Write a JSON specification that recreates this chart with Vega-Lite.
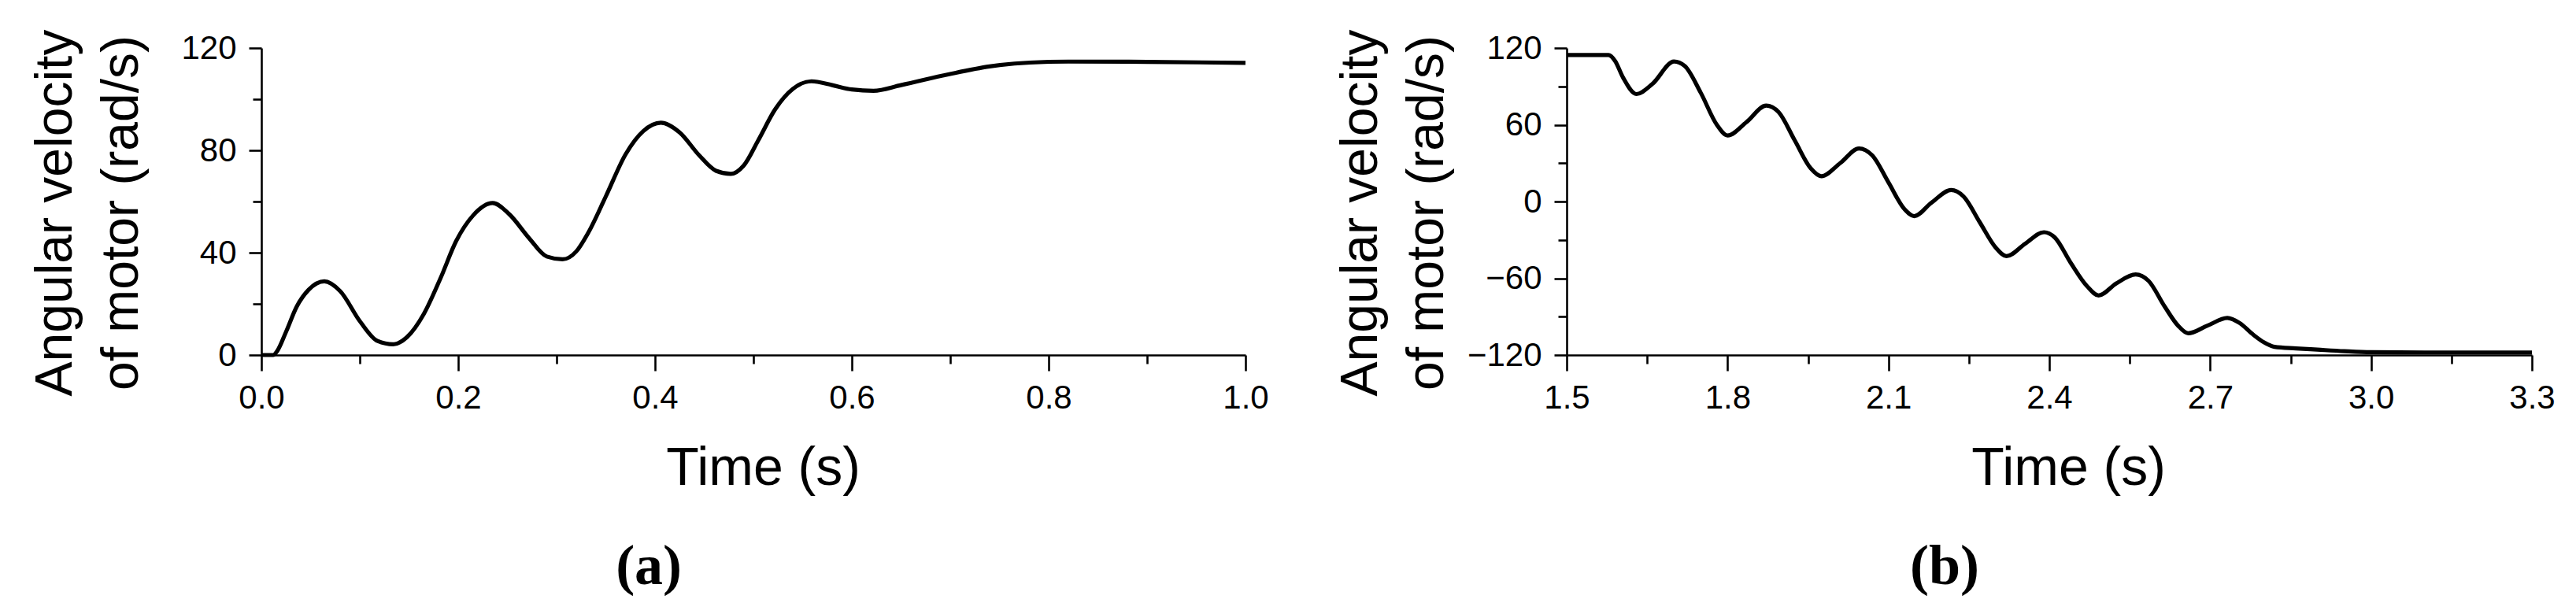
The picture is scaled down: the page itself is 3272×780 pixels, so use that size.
{
  "$schema": "https://vega.github.io/schema/vega-lite/v6.json",
  "background": "white",
  "padding": {"left": 37, "top": 37, "right": 0, "bottom": 20},
  "spacing": 83,
  "config": {
    "view": {"stroke": null},
    "font": "Liberation Sans",
    "axis": {
      "domainColor": "black", "domainWidth": 2.6,
      "tickColor": "black", "tickWidth": 2.6,
      "labelColor": "black", "labelFont": "Liberation Sans", "labelFontSize": 42,
      "titleColor": "black", "titleFont": "Liberation Sans", "titleFontWeight": "normal",
      "grid": false, "labelFlush": false, "labelOverlap": false
    }
  },
  "hconcat": [
    {
      "width": 1250, "height": 390,
      "title": {"text": "(a)", "orient": "bottom", "frame": "bounds", "anchor": "middle", "offset": 56, "font": "Liberation Serif", "fontSize": 72, "fontWeight": "bold", "color": "black"},
      "data": {"values": [
        {"t": 0, "v": 0}, {"t": 0.012, "v": 0}, {"t": 0.016, "v": 1.5}, {"t": 0.025, "v": 9},
        {"t": 0.036, "v": 19}, {"t": 0.048, "v": 25.5}, {"t": 0.064, "v": 28.8}, {"t": 0.08, "v": 25},
        {"t": 0.1005, "v": 13}, {"t": 0.118, "v": 5.5}, {"t": 0.134, "v": 4.2}, {"t": 0.148, "v": 7},
        {"t": 0.165, "v": 16}, {"t": 0.182, "v": 30}, {"t": 0.198, "v": 44.6}, {"t": 0.215, "v": 54.5},
        {"t": 0.235, "v": 59.4}, {"t": 0.252, "v": 55}, {"t": 0.272, "v": 45.7}, {"t": 0.29, "v": 38.5},
        {"t": 0.306, "v": 37.4}, {"t": 0.32, "v": 40.5}, {"t": 0.332, "v": 47.7}, {"t": 0.35, "v": 62},
        {"t": 0.37, "v": 78.4}, {"t": 0.388, "v": 87.5}, {"t": 0.406, "v": 90.8}, {"t": 0.425, "v": 87},
        {"t": 0.445, "v": 78}, {"t": 0.462, "v": 72}, {"t": 0.477, "v": 70.8}, {"t": 0.49, "v": 74},
        {"t": 0.505, "v": 84}, {"t": 0.522, "v": 96}, {"t": 0.54, "v": 104}, {"t": 0.559, "v": 107},
        {"t": 0.58, "v": 105.5}, {"t": 0.6, "v": 103.8}, {"t": 0.622, "v": 103.3}, {"t": 0.65, "v": 105.5},
        {"t": 0.698, "v": 109.7}, {"t": 0.74, "v": 112.8}, {"t": 0.781, "v": 114.3}, {"t": 0.82, "v": 114.7},
        {"t": 0.9, "v": 114.6}, {"t": 1.0, "v": 114.2}
      ]},
      "mark": {"type": "line", "color": "black", "strokeWidth": 5.2, "interpolate": "monotone", "clip": false},
      "encoding": {
        "x": {
          "field": "t", "type": "quantitative",
          "scale": {"domain": [0, 1], "nice": false, "zero": false},
          "axis": {
            "values": [0, 0.1, 0.2, 0.3, 0.4, 0.5, 0.6, 0.7, 0.8, 0.9, 1.0],
            "format": ".1f",
            "labelExpr": "round(datum.value*10)%2==1 ? '' : datum.label",
            "labelFontSize": 42,
            "tickSize": {"condition": {"test": "round(datum.value*10)%2==1", "value": 11}, "value": 20},
            "labelPadding": 14,
            "title": "Time (s)", "titleFontSize": 68, "titleX": 637, "titleY": 110
          }
        },
        "y": {
          "field": "v", "type": "quantitative",
          "scale": {"domain": [0, 120], "nice": false},
          "axis": {
            "values": [0, 20, 40, 60, 80, 100, 120],
            "labelExpr": "datum.value%40!=0 ? '' : datum.label",
            "labelFontSize": 42,
            "tickSize": {"condition": {"test": "datum.value%40!=0", "value": 11}, "value": 16},
            "labelPadding": 16,
            "title": ["Angular velocity", "of motor (rad/s)"],
            "titleFontSize": 66, "titleLineHeight": 84,
            "titleX": -228, "titleY": 209, "titleBaseline": "bottom", "titleAlign": "center"
          }
        }
      }
    },
    {
      "width": 1226, "height": 390,
      "title": {"text": "(b)", "orient": "bottom", "frame": "bounds", "anchor": "middle", "offset": 56, "font": "Liberation Serif", "fontSize": 72, "fontWeight": "bold", "color": "black"},
      "data": {"values": [
        {"t": 1.5, "v": 114.5}, {"t": 1.578, "v": 114.5}, {"t": 1.59, "v": 110}, {"t": 1.605, "v": 97},
        {"t": 1.63, "v": 84}, {"t": 1.66, "v": 92}, {"t": 1.7, "v": 109.4}, {"t": 1.72, "v": 106},
        {"t": 1.75, "v": 85}, {"t": 1.78, "v": 60}, {"t": 1.8, "v": 51.6}, {"t": 1.835, "v": 62},
        {"t": 1.872, "v": 75}, {"t": 1.895, "v": 70}, {"t": 1.925, "v": 48}, {"t": 1.955, "v": 26},
        {"t": 1.975, "v": 19.8}, {"t": 2.01, "v": 30}, {"t": 2.045, "v": 41.5}, {"t": 2.07, "v": 36},
        {"t": 2.1, "v": 15}, {"t": 2.13, "v": -6}, {"t": 2.148, "v": -11.4}, {"t": 2.18, "v": -1},
        {"t": 2.217, "v": 9}, {"t": 2.24, "v": 4}, {"t": 2.27, "v": -16}, {"t": 2.3, "v": -36},
        {"t": 2.32, "v": -42.7}, {"t": 2.355, "v": -33}, {"t": 2.39, "v": -24}, {"t": 2.41, "v": -28},
        {"t": 2.44, "v": -48}, {"t": 2.47, "v": -66}, {"t": 2.492, "v": -73.4}, {"t": 2.525, "v": -64},
        {"t": 2.561, "v": -57}, {"t": 2.585, "v": -62}, {"t": 2.615, "v": -82}, {"t": 2.64, "v": -97},
        {"t": 2.659, "v": -103}, {"t": 2.695, "v": -97}, {"t": 2.732, "v": -91}, {"t": 2.755, "v": -95},
        {"t": 2.78, "v": -104}, {"t": 2.8, "v": -110}, {"t": 2.82, "v": -113.6}, {"t": 2.86, "v": -114.8},
        {"t": 2.9, "v": -115.8}, {"t": 2.95, "v": -117}, {"t": 3.0, "v": -117.8}, {"t": 3.1, "v": -118},
        {"t": 3.3, "v": -118}
      ]},
      "mark": {"type": "line", "color": "black", "strokeWidth": 5.2, "interpolate": "monotone", "clip": false},
      "encoding": {
        "x": {
          "field": "t", "type": "quantitative",
          "scale": {"domain": [1.5, 3.3], "nice": false, "zero": false},
          "axis": {
            "values": [1.5, 1.65, 1.8, 1.95, 2.1, 2.25, 2.4, 2.55, 2.7, 2.85, 3.0, 3.15, 3.3],
            "format": ".1f",
            "labelExpr": "round((datum.value-1.5)/0.15)%2==1 ? '' : datum.label",
            "labelFontSize": 42,
            "tickSize": {"condition": {"test": "round((datum.value-1.5)/0.15)%2==1", "value": 11}, "value": 20},
            "labelPadding": 14,
            "title": "Time (s)", "titleFontSize": 68, "titleX": 637, "titleY": 110
          }
        },
        "y": {
          "field": "v", "type": "quantitative",
          "scale": {"domain": [-120, 120], "nice": false, "zero": false},
          "axis": {
            "values": [-120, -90, -60, -30, 0, 30, 60, 90, 120],
            "labelExpr": "datum.value%60!=0 ? '' : datum.label",
            "labelFontSize": 42,
            "tickSize": {"condition": {"test": "datum.value%60!=0", "value": 11}, "value": 16},
            "labelPadding": 16,
            "title": ["Angular velocity", "of motor (rad/s)"],
            "titleFontSize": 66, "titleLineHeight": 84,
            "titleX": -228, "titleY": 209, "titleBaseline": "bottom", "titleAlign": "center"
          }
        }
      }
    }
  ]
}
